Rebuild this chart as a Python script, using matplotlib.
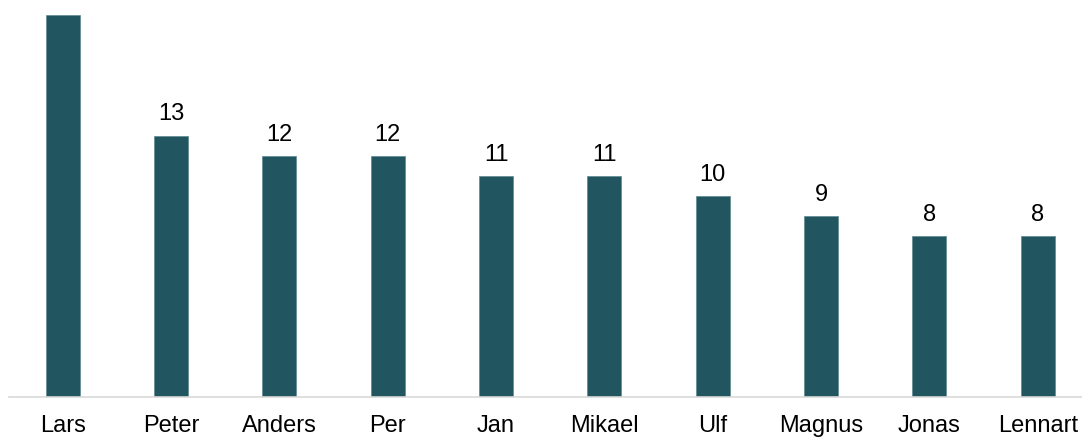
import matplotlib.pyplot as plt

plt.rcParams['font.family'] = ['Liberation Sans', 'DejaVu Sans']

names = ['Lars', 'Peter', 'Anders', 'Per', 'Jan', 'Mikael', 'Ulf', 'Magnus', 'Jonas', 'Lennart']
counts = [19, 13, 12, 12, 11, 11, 10, 9, 8, 8]

bar_color = '#215660'

W, H = 1082, 437
fig = plt.figure(figsize=(W / 100, H / 100), dpi=100)
# axis spans beyond the right edge, as in the reference
left_px, right_px, base_px = 8.5, 1092, 397
ax = fig.add_axes([left_px / W, (H - base_px) / H, (right_px - left_px) / W, base_px / H])

x = range(len(names))
ax.bar(x, counts, width=0.314, color=bar_color, edgecolor='#5d8a90', linewidth=0.5)
ax.set_xlim(-0.5, len(names) - 0.5)
ax.set_ylim(0, 19.75)

for xi, v in zip(x, counts):
    # the tallest bar's label sits above the picture in the reference
    if v > 18:
        continue
    ax.annotate(str(v), (xi, v), xytext=(0, 11), textcoords='offset points',
                ha='center', va='baseline', fontsize=17, color='#000000')

ax.set_xticks(list(x))
ax.set_xticklabels(names, fontsize=17)
ax.tick_params(axis='x', length=0, pad=13)
ax.set_yticks([])
for s in ['top', 'right', 'left']:
    ax.spines[s].set_visible(False)
ax.spines['bottom'].set_color('#d9d9d9')
ax.spines['bottom'].set_linewidth(1.2)

fig.savefig('out.png', dpi=100)
